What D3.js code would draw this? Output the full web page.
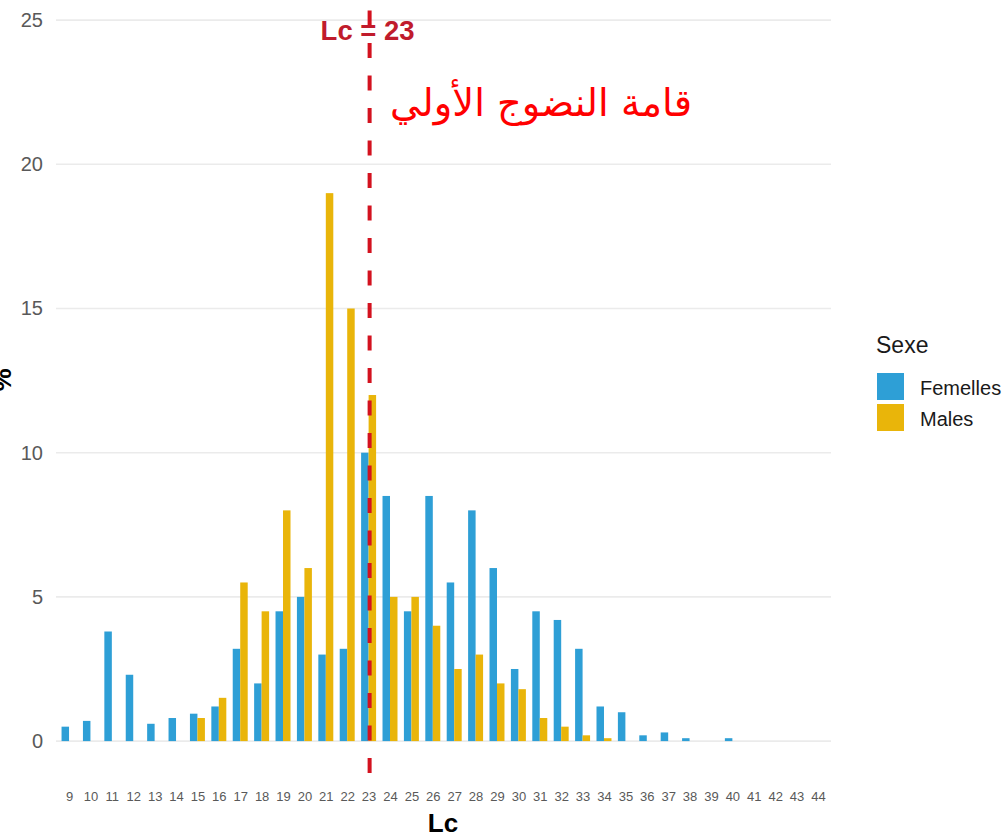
<!DOCTYPE html>
<html>
<head>
<meta charset="utf-8">
<script src="https://cdn.jsdelivr.net/npm/d3@7"></script>
<style>
  html, body { margin: 0; padding: 0; background: #fff; overflow: hidden; }
  svg { display: block; }
</style>
</head>
<body>
<svg id="chart" width="1002" height="838"></svg>
<script>
// ---- data ----
const categories = [9,10,11,12,13,14,15,16,17,18,19,20,21,22,23,24,25,26,27,28,29,30,31,32,33,34,35,36,37,38,39,40,41,42,43,44];
const femelles   = [0.5,0.7,3.8,2.3,0.6,0.8,0.95,1.2,3.2,2.0,4.5,5.0,3.0,3.2,10.0,8.5,4.5,8.5,5.5,8.0,6.0,2.5,4.5,4.2,3.2,1.2,1.0,0.2,0.3,0.1,0,0.1,0,0,0,0];
const males      = [0,0,0,0,0,0,0.8,1.5,5.5,4.5,8.0,6.0,19.0,15.0,12.0,5.0,5.0,4.0,2.5,3.0,2.0,1.8,0.8,0.5,0.2,0.1,0,0,0,0,0,0,0,0,0,0];
const seriesNames = ["Femelles", "Males"];
const yTicks = [0, 5, 10, 15, 20, 25];
const lcValue = 23;
const lcLabel = "Lc = 23";
const arabicNote = "قامة النضوج الأولي";

// ---- layout ----
const svg = d3.select("#chart");
const colors = d3.scaleOrdinal().domain(seriesNames).range(["#2E9FD6", "#E9B50A"]);

const x = d3.scalePoint().domain(categories).range([56.2, 830.8]).padding(0.6);
const y = d3.scaleLinear().domain([-1.28, 25.42]).range([778, 8]);
const step = x.step();
const barW = step * 0.35;

// gridlines
svg.append("g").selectAll("line").data(yTicks).join("line")
  .attr("x1", 56).attr("x2", 831)
  .attr("y1", d => y(d)).attr("y2", d => y(d))
  .attr("stroke", "#ebebeb").attr("stroke-width", 1.6);

// y axis labels
const yAxis = svg.append("g").attr("transform", "translate(52,0)")
  .call(d3.axisLeft(y).tickValues(yTicks).tickSize(0).tickPadding(9));
yAxis.select(".domain").remove();
yAxis.selectAll("text").attr("font-family", "Liberation Sans, Arial, sans-serif")
  .attr("font-size", 20).attr("fill", "#595959");

// x axis labels
const xAxis = svg.append("g").attr("transform", "translate(0,788)")
  .call(d3.axisBottom(x).tickSize(0).tickPadding(4));
xAxis.select(".domain").remove();
xAxis.selectAll("text").attr("font-family", "Liberation Sans, Arial, sans-serif")
  .attr("font-size", 13).attr("fill", "#595959");

// bars
const rows = categories.map((c, i) => ({c, f: femelles[i], m: males[i]}));
svg.append("g").selectAll("rect").data(rows.filter(d => d.f > 0)).join("rect")
  .attr("x", d => x(d.c) - barW).attr("width", barW)
  .attr("y", d => y(d.f)).attr("height", d => y(0) - y(d.f))
  .attr("fill", colors("Femelles"));
svg.append("g").selectAll("rect").data(rows.filter(d => d.m > 0)).join("rect")
  .attr("x", d => x(d.c)).attr("width", barW)
  .attr("y", d => y(d.m)).attr("height", d => y(0) - y(d.m))
  .attr("fill", colors("Males"));

// Lc label
svg.append("text").attr("x", x(lcValue) - 1).attr("y", 40)
  .attr("text-anchor", "middle")
  .attr("font-family", "Liberation Sans, Arial, sans-serif")
  .attr("font-weight", "bold").attr("font-size", 27.5)
  .attr("fill", "#C01B2C").text(lcLabel);

// dashed vline
svg.append("line")
  .attr("x1", x(lcValue) + 1).attr("x2", x(lcValue) + 1)
  .attr("y1", 10.5).attr("y2", 778)
  .attr("stroke", "#D3121F").attr("stroke-width", 4)
  .attr("stroke-dasharray", "15,17.5");

// Arabic annotation
const ar = svg.append("text")
  .attr("x", 692).attr("y", 116)
  .attr("direction", "rtl")
  .attr("text-anchor", "start")
  .attr("font-family", "DejaVu Sans, sans-serif")
  .attr("font-size", 32).attr("fill", "#FF0000").text(arabicNote);
const w = ar.node().getComputedTextLength();
if (w > 0) ar.attr("font-size", 32 * 302 / w);

// axis titles
svg.append("text").attr("x", 443).attr("y", 832)
  .attr("text-anchor", "middle")
  .attr("font-family", "Liberation Sans, Arial, sans-serif")
  .attr("font-weight", "bold").attr("font-size", 26).attr("fill", "#000").text("Lc");
svg.append("text").attr("transform", "translate(11,380) rotate(-90)")
  .attr("text-anchor", "middle")
  .attr("font-family", "Liberation Sans, Arial, sans-serif")
  .attr("font-weight", "bold").attr("font-size", 26).attr("fill", "#000").text("%");

// legend
const lg = svg.append("g");
lg.append("text").attr("x", 876).attr("y", 353)
  .attr("font-family", "Liberation Sans, Arial, sans-serif")
  .attr("font-size", 23).attr("fill", "#1a1a1a").text("Sexe");
seriesNames.forEach((s, i) => {
  lg.append("rect").attr("x", 877).attr("y", 373 + i * 31).attr("width", 27).attr("height", 27)
    .attr("fill", colors(s));
  lg.append("text").attr("x", 920).attr("y", 395 + i * 31)
    .attr("font-family", "Liberation Sans, Arial, sans-serif")
    .attr("font-size", 20).attr("fill", "#1a1a1a").text(s);
});
</script>
</body>
</html>
